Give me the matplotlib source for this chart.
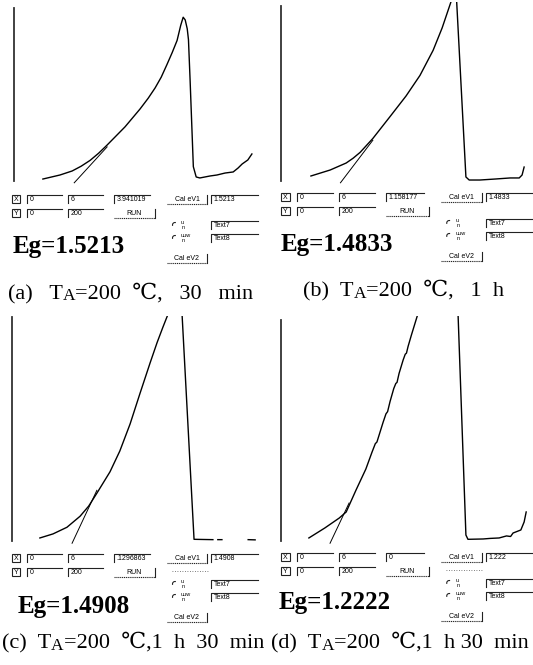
import numpy as np
import matplotlib
matplotlib.use('Agg')
import matplotlib.pyplot as plt
from matplotlib.patches import Rectangle, Arc

# photon energy (eV) vs (alpha*h*nu)^2, arbitrary units
a_x = [0.71, 1.13, 1.43, 1.65, 1.87, 2.08, 2.29, 2.73, 3.10, 3.30, 3.47, 3.62, 3.76, 3.89, 4.01,
       4.10, 4.16, 4.21, 4.26, 4.29, 4.33, 4.41, 4.48, 4.57, 4.82, 4.99, 5.19, 5.39, 5.51, 5.61,
       5.75, 5.85]
a_y = [2.2, 6.7, 11.2, 16.5, 23.0, 31.0, 40.2, 60.5, 80.5, 92.5, 104.0, 116.0, 130.0, 143.5, 157.0,
       174.0, 183.0, 180.0, 170.0, 158.0, 113.0, 16.0, 4.5, 3.4, 5.6, 6.7, 8.9, 10.1, 14.5, 19.0,
       23.5, 30.2]

b_x = [0.73, 1.20, 1.59, 1.76, 1.93, 2.24, 2.66, 3.05, 3.39, 3.71, 3.93, 4.10, 4.24, 4.27, 4.51,
       4.59, 4.85, 5.22, 5.59, 5.81, 5.88, 5.93]
b_y = [5.6, 12.3, 20.1, 25.5, 32.0, 47.5, 72.0, 95.0, 118.0, 146.0, 171.0, 194.0, 213.0, 213.0, 4.5,
       1.1, 1.1, 2.2, 3.4, 3.4, 6.7, 15.6]

c_x = [0.68, 1.00, 1.34, 1.66, 1.87, 2.07, 2.39, 2.63, 2.88, 3.12, 3.37, 3.54, 3.68, 3.81, 3.90,
       4.12, 4.15, 4.44, 4.90, np.nan, 5.02, 5.12, np.nan, 5.76, 5.93]
c_y = [2.7, 6.3, 12.2, 22.0, 31.0, 42.5, 61.5, 80.0, 104.0, 131.0, 158.5, 176.5, 190.0, 202.0, 210.0,
       210.0, 200.0, 1.5, 1.2, np.nan, 1.2, 1.2, np.nan, 1.2, 1.0]

d_x = [0.68, 1.07, 1.42, 1.59, 1.83, 2.07, 2.22, 2.30, 2.34, 2.40, 2.49, 2.56, 2.60, 2.66, 2.75,
       2.80, 2.83, 2.88, 2.98, 3.03, 3.06, 3.10, 3.18, 3.26, 3.34, 3.36,
       4.30, 4.32, 4.51, 4.56, 4.93, 5.10, 5.32, 5.50, 5.60, 5.66, 5.85, 5.93, 5.98]
d_y = [2.7, 11.6, 20.4, 25.8, 45.3, 64.0, 79.0, 86.5, 88.0, 95.0, 105.5, 113.0, 115.0, 124.0, 135.5,
       140.0, 141.0, 149.0, 161.0, 166.0, 167.0, 173.0, 183.0, 192.5, 202.0, 205.0,
       205.0, 200.0, 5.3, 1.5, 1.8, 2.3, 2.7, 4.5, 4.0, 7.1, 9.8, 16.9, 25.8]

eg_values = [1.5213, 1.4833, 1.4908, 1.2222]
tan_slope = [49.6, 60.2, 77.8, 77.0]
tan_end = [2.29, 2.24, 2.07, 1.66]

x_range = ['0', '6']
y_range = ['0', '200']
calc_fields = ['3.941019', '1.158177', '.1296863', '0']
eg_fields = ['1.5213', '1.4833', '1.4908', '1.222']
heads = ['(a)   T', '(b)  T', '(c)  T', '(d)  T']
tails = ['=200  ℃,   30   min', '=200  ℃,   1  h', '=200  ℃,1  h  30  min', '=200  ℃,1  h 30  min']

curves = [(a_x, a_y), (b_x, b_y), (c_x, c_y), (d_x, d_y)]

# layout in pixels
W, H = 533, 665
panels = [(14, 258, 2, 181), (281, 527, 2, 181), (12, 258, 316, 541), (281, 527, 316, 541)]
spine_top = [193, 195, 199, 196]
row_y = [199, 197, 558, 557]
origin = [(0, 1.0), (269, 1.03), (0, 1.0), (269, 1.03)]
eg_pos = [(13, 247), (281, 245), (18, 607), (279, 602)]
cap_pos = [(8, 299), (303, 296), (2, 648), (271, 648)]

SERIF = ['Liberation Serif', 'DejaVu Serif', 'Noto Sans CJK KR']
UI = 'Liberation Sans'
INK = '#222222'

fig = plt.figure(figsize=(W / 100, H / 100), dpi=100)
fig.patch.set_facecolor('white')

for i, (l, r, t, b) in enumerate(panels):
    ax = fig.add_axes([l / W, 1 - b / H, (r - l) / W, (b - t) / H])
    ax.set_xlim(0, 6)
    ax.set_ylim(0, 200)
    ax.patch.set_alpha(0)
    for s in ['top', 'right', 'bottom']:
        ax.spines[s].set_visible(False)
    ax.spines['left'].set_linewidth(1.3)
    ax.spines['left'].set_color('#333333')
    ax.spines['left'].set_bounds(0, spine_top[i])
    ax.set_xticks([])
    ax.set_yticks([])
    cx, cy = curves[i]
    ax.plot(cx, cy, color='black', lw=1.0, solid_joinstyle='round')
    eg = eg_values[i]
    tx = np.array([eg - 2 / tan_slope[i], tan_end[i]])
    ax.plot(tx, tan_slope[i] * (tx - eg), color='black', lw=0.7, clip_on=False)

ov = fig.add_axes([0, 0, 1, 1])
ov.set_xlim(0, W)
ov.set_ylim(H, 0)
ov.axis('off')


def textbox(x1, x2, y, s):
    ov.plot([x1, x1, x2], [y + 4, y - 4, y - 4], color=INK, lw=0.8)
    ov.text(x1 + 2.5, y + 0.5, s, fontsize=5, family=UI, ha='left', va='center')


def button(x1, x2, y, s):
    ov.plot([x1, x2], [y + 5, y + 5], color=INK, lw=0.8, ls=(0, (1, 0.7)))
    ov.plot([x2, x2], [y - 4, y + 5], color=INK, lw=0.8)
    ov.text((x1 + x2) / 2, y + 0.5, s, fontsize=5, family=UI, ha='center', va='center')


def keybox(x1, x2, y, s):
    ov.add_patch(Rectangle((x1, y - 4), x2 - x1, 8, fill=False, lw=0.8, ec=INK))
    ov.text((x1 + x2) / 2, y + 0.5, s, fontsize=5, family=UI, ha='center', va='center')


def radio(x, y, top, bottom):
    ov.add_patch(Arc((x, y), 5, 5, theta1=160, theta2=290, lw=0.8, color=INK))
    ov.text(x + 6, y - 2.5, top, fontsize=4, family=UI, ha='left', va='center')
    ov.text(x + 7, y + 2.5, bottom, fontsize=4, family=UI, ha='left', va='center')


for i in range(4):
    ox, sx = origin[i]
    X = lambda v: ox + v * sx
    y1 = row_y[i]
    y2 = y1 + 14
    keybox(X(12), X(20), y1, 'X')
    textbox(X(27), X(62), y1, x_range[0])
    textbox(X(68), X(103), y1, x_range[1])
    textbox(X(114), X(150), y1, calc_fields[i])
    button(X(167), X(207), y1, 'Cal eV1')
    textbox(X(211), X(258), y1, eg_fields[i])
    keybox(X(12), X(20), y2, 'Y')
    textbox(X(27), X(62), y2, y_range[0])
    textbox(X(68), X(103), y2, y_range[1])
    button(X(114), X(155), y2, 'RUN')
    radio(X(175), y1 + 26, 'u', 'n')
    textbox(X(211), X(258), y1 + 26, 'Text7')
    radio(X(175), y1 + 39, 'uuw', 'n')
    textbox(X(211), X(258), y1 + 39, 'Text8')
    button(X(167), X(207), y1 + 59, 'Cal eV2')
    if i >= 2:
        ov.plot([X(172), X(208)], [y2 - 1, y2 - 1], color='#555555', lw=0.6, ls=(0, (1, 2)))

    ex, ey = eg_pos[i]
    ov.text(ex, ey, 'Eg=' + f'{eg_values[i]:.4f}', fontsize=18, family=SERIF,
            fontweight='bold', ha='left', va='center')

    cx0, cy0 = cap_pos[i]
    t1 = ov.text(cx0, cy0, heads[i], fontsize=16, family=SERIF, ha='left', va='baseline')
    t2 = ov.annotate('A', xy=(1, cy0 + 1.5), xycoords=(t1, 'data'), fontsize=12.5,
                     family=SERIF, ha='left', va='baseline')
    ov.annotate(tails[i], xy=(1, cy0), xycoords=(t2, 'data'), fontsize=16,
                family=SERIF, ha='left', va='baseline')

fig.savefig('out.png', dpi=100, facecolor='white')
